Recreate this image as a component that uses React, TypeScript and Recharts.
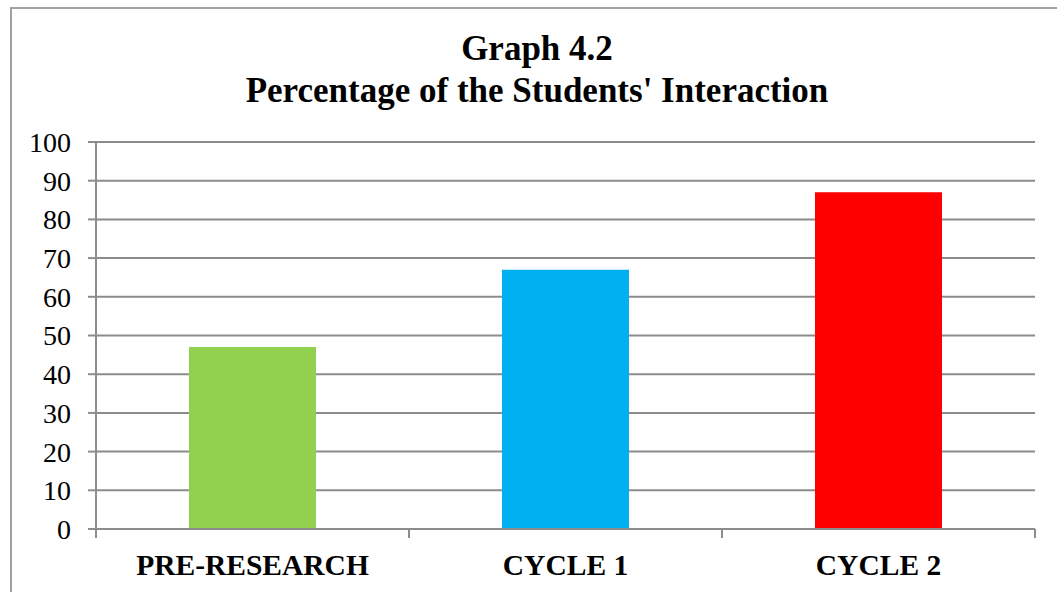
import { BarChart, Bar, Cell, XAxis, YAxis, CartesianGrid } from 'recharts'

const categories = ['PRE-RESEARCH', 'CYCLE 1', 'CYCLE 2']
const percentages = [47, 67, 87]
const barColors = ['#92D050', '#00B0F0', '#FF0000']
const yTicks = [0, 10, 20, 30, 40, 50, 60, 70, 80, 90, 100]

const chartData = categories.map((name, i) => ({ name, value: percentages[i] }))

const W = 1057
const H = 592
const margin = { top: 142, right: 22, bottom: 0, left: 10 }
const yAxisWidth = 86
const band = (W - margin.left - margin.right - yAxisWidth) / categories.length
const axisColor = '#8c8c8c'
const serif = '"Liberation Serif", "Times New Roman", serif'

const CategoryTick = (props: any) => {
    const { x, y, payload } = props
    return (
        <g>
            <line x1={x - band / 2} x2={x - band / 2} y1={y} y2={y + 9} stroke={axisColor} strokeWidth={2} />
            <line x1={x + band / 2} x2={x + band / 2} y1={y} y2={y + 9} stroke={axisColor} strokeWidth={2} />
            <text x={x} y={y + 46} textAnchor='middle' fontFamily={serif} fontWeight='bold' fontSize={29.5} fill='#000'>
                {payload.value}
            </text>
        </g>
    )
}

export default function App() {
    return (
        <div style={{ position: 'absolute', left: 0, top: 0, width: W, height: H, overflow: 'hidden', background: '#fff' }}>
            <div
                style={{
                    position: 'absolute',
                    left: 10,
                    top: 7,
                    width: 1100,
                    height: 640,
                    border: '2px solid #a0a0a0',
                    boxSizing: 'border-box',
                }}
            />
            <div
                style={{
                    position: 'absolute',
                    left: 0,
                    top: 28,
                    width: 1074,
                    textAlign: 'center',
                    fontFamily: serif,
                    fontWeight: 'bold',
                    fontSize: 35,
                    lineHeight: '42px',
                    color: '#000',
                }}
            >
                <div>Graph 4.2</div>
                <div>Percentage of the Students' Interaction</div>
            </div>
            <div style={{ position: 'absolute', left: 0, top: 0 }}>
                <BarChart width={W} height={H} data={chartData} margin={margin}>
                    <CartesianGrid vertical={false} stroke={axisColor} strokeWidth={2} />
                    <XAxis
                        dataKey='name'
                        height={63}
                        stroke={axisColor}
                        strokeWidth={2}
                        tickLine={false}
                        tickSize={0}
                        tickMargin={0}
                        tick={<CategoryTick />}
                        interval={0}
                    />
                    <YAxis
                        width={yAxisWidth}
                        domain={[0, 100]}
                        ticks={yTicks}
                        interval={0}
                        stroke={axisColor}
                        strokeWidth={2}
                        tickSize={8}
                        tickMargin={17}
                        tick={{ fill: '#000', fontFamily: serif, fontSize: 28 }}
                    />
                    <Bar dataKey='value' barSize={127} isAnimationActive={false}>
                        {chartData.map((entry, index) => (
                            <Cell key={`cell-${index}`} fill={barColors[index % barColors.length]} />
                        ))}
                    </Bar>
                </BarChart>
            </div>
        </div>
    )
}
